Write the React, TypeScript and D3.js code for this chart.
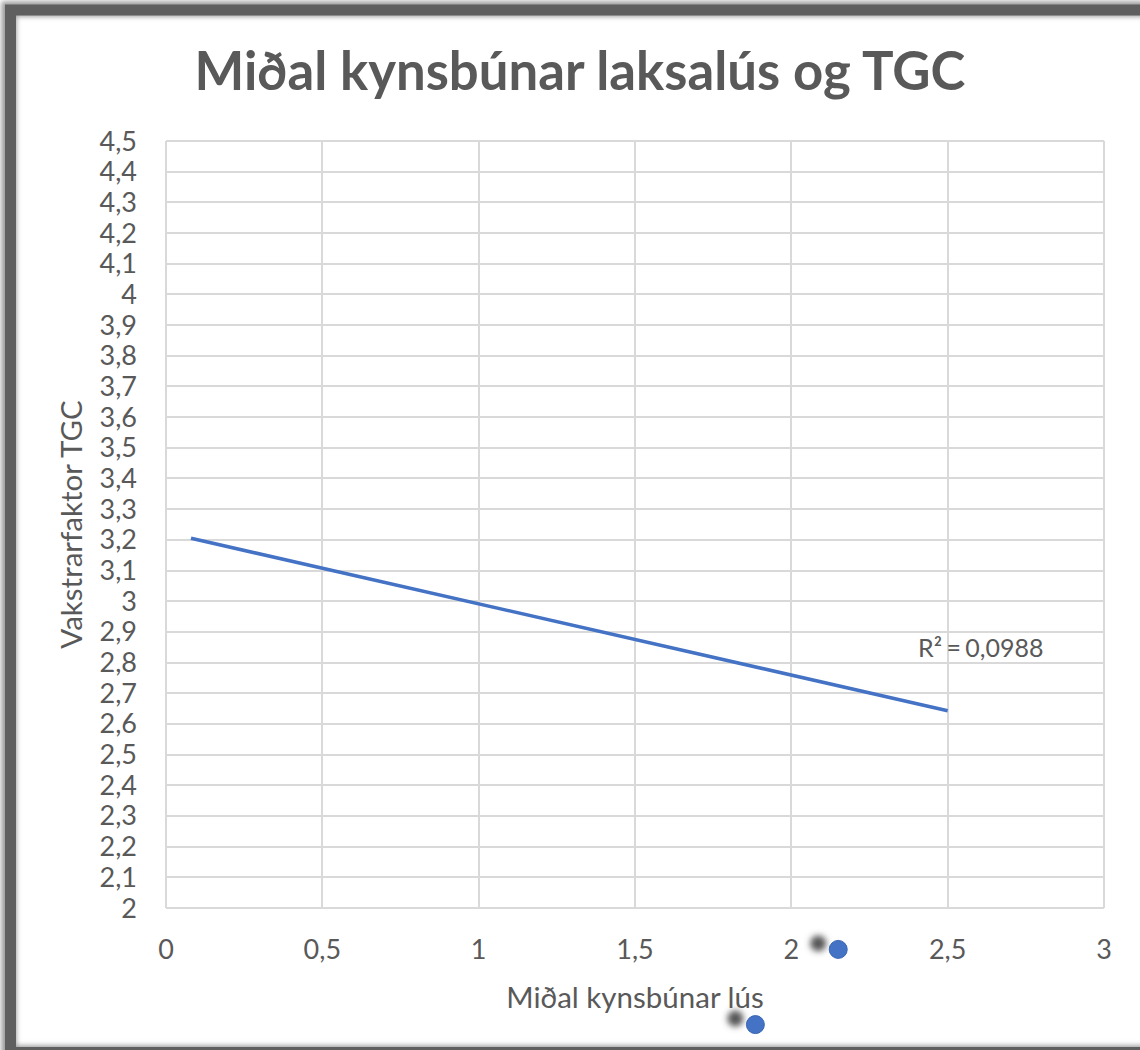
import React from 'react'
import * as d3 from 'd3'

// trend line (linear fit) end points
const trendX = [0.08, 2.5]
const trendY = [3.205, 2.643]
// the two stray markers below the plot area
const pointX = [2.15, 1.885]
const pointY = [1.865, 1.62]
const rSquared = '0,0988'

const xTicks = [0, 0.5, 1, 1.5, 2, 2.5, 3]
const yTicks = d3.range(20, 46).map(v => v / 10)

const fmt = (v: number) => String(+v.toFixed(1)).replace('.', ',')

const App = () => {
  const width = 1140
  const height = 1050
  const left = 166, right = 1104, top = 141, bottom = 908

  const x = d3.scaleLinear().domain([0, 3]).range([left, right])
  const y = d3.scaleLinear().domain([2, 4.5]).range([bottom, top])

  const trend = d3.line<number>()
    .x(d => x(trendX[d]))
    .y(d => y(trendY[d]))([0, 1])

  const grid = '#d9d9d9'
  const txt = '#595959'
  const font = 'Lato, "Open Sans", sans-serif'

  return (
    <svg width={width} height={height} style={{ position: 'absolute', left: 0, top: 0, background: '#fff' }}>
      <defs>
        <filter id="blur" x="-10%" y="-10%" width="120%" height="120%">
          <feGaussianBlur stdDeviation="2.5" />
        </filter>
        <filter id="dotShadow" x="-100%" y="-100%" width="300%" height="300%">
          <feGaussianBlur stdDeviation="3" />
        </filter>
      </defs>
      {/* outer frame */}
      <rect x={9} y={9} width={1200} height={1044} fill="none" stroke="#9a9a9a" strokeWidth={15} filter="url(#blur)" />
      <rect x={10.5} y={10} width={1200} height={1042.5} fill="none" stroke="#5f5f5f" strokeWidth={11} />

      <text x={580} y={90} textAnchor="middle" fontFamily={font} fontWeight={700} fontSize={52.7} fill={txt}>
        Miðal kynsbúnar laksalús og TGC
      </text>

      {/* grid */}
      <g stroke={grid} strokeWidth={2} shapeRendering="crispEdges">
        {yTicks.map(t => (
          <line key={'y' + t} x1={left} x2={right} y1={Math.round(y(t))} y2={Math.round(y(t))} />
        ))}
        {xTicks.map(t => (
          <line key={'x' + t} x1={Math.round(x(t))} x2={Math.round(x(t))} y1={top} y2={bottom} />
        ))}
      </g>

      <g fontFamily={font} fontSize={27} fill={txt}>
        {yTicks.map(t => (
          <text key={'yl' + t} x={137} y={y(t) + 9.5} textAnchor="end">{fmt(t)}</text>
        ))}
        {xTicks.map(t => (
          <text key={'xl' + t} x={x(t)} y={959} textAnchor="middle">{fmt(t)}</text>
        ))}
        <text x={(left + right) / 2} y={1008} textAnchor="middle" fontSize={29.5}>Miðal kynsbúnar lús</text>
        <text transform={`translate(82,${(top + bottom) / 2}) rotate(-90)`} textAnchor="middle" fontSize={29.5}>Vakstrarfaktor TGC</text>
        <text x={918} y={657} fontSize={25} wordSpacing={-2}>R² = {rSquared}</text>
      </g>

      <path d={trend ?? ''} fill="none" stroke="#4472c4" strokeWidth={3.5} />

      {pointX.map((px, i) => (
        <g key={'p' + i}>
          <circle cx={x(px) - 20} cy={y(pointY[i]) - 6} r={8} fill="#555" filter="url(#dotShadow)" />
          <circle cx={x(px)} cy={y(pointY[i])} r={9} fill="#4472c4" stroke="#3a66b5" strokeWidth={1} />
        </g>
      ))}
    </svg>
  )
}

export default App
